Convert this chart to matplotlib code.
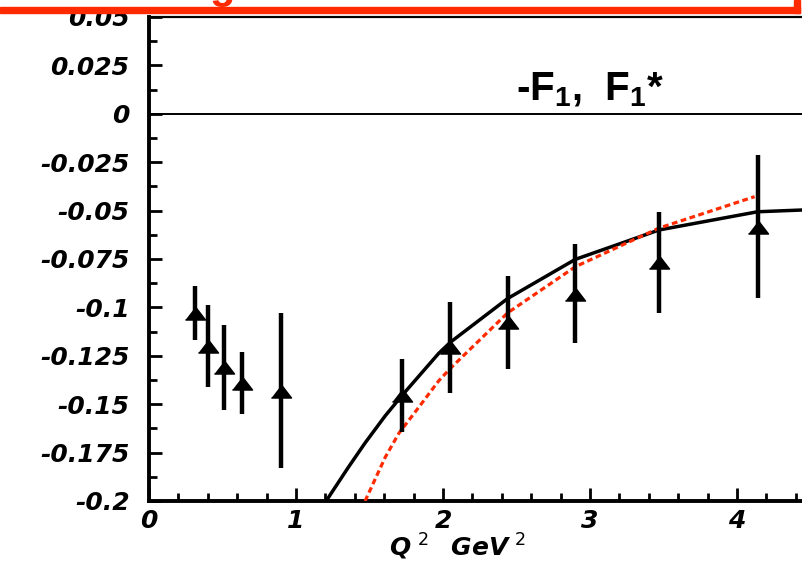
import numpy as np
import matplotlib
matplotlib.use("Agg")
import matplotlib.pyplot as plt
from matplotlib.patches import Rectangle
from matplotlib.ticker import MultipleLocator

plt.rcParams["mathtext.fontset"] = "custom"
plt.rcParams["mathtext.rm"] = "DejaVu Sans"
plt.rcParams["mathtext.it"] = "DejaVu Sans:bold:italic"
plt.rcParams["mathtext.bf"] = "Liberation Sans:bold"

# measured points: Q^2, value, error
q2   = [0.31, 0.40, 0.507, 0.63, 0.90, 1.72, 2.05, 2.44, 2.90, 3.47, 4.14]
vals = [-0.103, -0.120, -0.131, -0.139, -0.143, -0.1455, -0.1206, -0.1077, -0.093, -0.0767, -0.0583]
errs = [0.014, 0.021, 0.022, 0.016, 0.040, 0.019, 0.0235, 0.024, 0.0255, 0.026, 0.037]

# solid black curve
fit_q = [1.205, 1.356, 1.47, 1.607, 1.72, 1.97, 2.05, 2.44, 2.90, 3.47, 4.14, 4.44, 4.5]
fit_v = [-0.200, -0.1826, -0.170, -0.156, -0.1456, -0.1238, -0.118, -0.0954, -0.0752, -0.060, -0.0506, -0.0497, -0.0496]

# red dotted curve
alt_q = [1.47, 1.607, 1.70, 1.836, 1.97, 2.05, 2.44, 2.90, 3.47, 4.12]
alt_v = [-0.200, -0.1774, -0.165, -0.1515, -0.138, -0.1315, -0.1028, -0.079, -0.059, -0.0428]

RED = "#ff2a00"
W, H = 802, 561

fig = plt.figure(figsize=(W / 100, H / 100), dpi=100)
fig.patch.set_facecolor("white")

x0_px, y_top, y_bot = 149, 17, 501
px_per_unit = 147
xmax = 4.5
ax = fig.add_axes([x0_px / W, (H - y_bot) / H, xmax * px_per_unit / W, (y_bot - y_top) / H])
ax.set_xlim(0, xmax)
ax.set_ylim(-0.2, 0.05)

ax.axhline(0, color="black", lw=1.4, zorder=1)

ax.plot(fit_q, fit_v, color="black", lw=2.5, zorder=3)
ax.plot(alt_q, alt_v, color=RED, lw=2.3, ls=(0, (1.8, 1.1)), zorder=3)

tri = [(-1, -0.65), (1, -0.65), (0, 0.65)]
ax.errorbar(q2, vals, yerr=errs, fmt="none", ecolor="black", elinewidth=3.2, capsize=0, zorder=4)
ax.plot(q2, vals, ls="none", marker=tri, ms=14.5, color="black", mec="black", zorder=5)

for side in ("left", "bottom"):
    ax.spines[side].set_linewidth(2.8)
ax.spines["top"].set_linewidth(1.6)
ax.spines["right"].set_visible(False)

ax.yaxis.set_major_locator(MultipleLocator(0.025))
ax.yaxis.set_minor_locator(MultipleLocator(0.0125))
ax.xaxis.set_major_locator(MultipleLocator(1))
ax.xaxis.set_minor_locator(MultipleLocator(0.2))
ax.tick_params(which="major", direction="in", length=9.5, width=2, top=False, right=False)
ax.tick_params(which="minor", direction="in", length=5.5, width=2, top=False, right=False)
ax.tick_params(axis="y", which="major", pad=14)
ax.tick_params(axis="x", which="major", pad=6)

ylabels = ["-0.2", "-0.175", "-0.15", "-0.125", "-0.1", "-0.075", "-0.05", "-0.025", "0", "0.025", "0.05"]
ax.set_yticks(np.linspace(-0.2, 0.05, 11))
ax.set_yticklabels(ylabels)
xlabels = ["0", "1", "2", "3", "4"]
ax.set_xticks(range(5))
ax.set_xticklabels(xlabels)
for lbl in ax.get_xticklabels() + ax.get_yticklabels():
    lbl.set_fontfamily("DejaVu Sans")
    lbl.set_fontweight("bold")
    lbl.set_fontstyle("oblique")
    lbl.set_fontsize(18)

fig.text(389 / W, 1 - 556 / H, r"$\mathit{Q}^{\;2}\;\;\;\mathit{GeV}^{\;2}$",
         fontsize=18, ha="left", va="baseline")

fig.text(516 / W, 1 - 100 / H, r"-F$_{\mathbf{1}}$,  F$_{\mathbf{1}}$*",
         fontsize=29, fontfamily="Liberation Sans", fontweight="bold",
         ha="left", va="baseline")

# cropped red frame at the top
fig.add_artist(Rectangle((0, 1 - 13 / H), 800 / W, 6 / H, transform=fig.transFigure,
                         color=RED, zorder=10))
fig.add_artist(Rectangle((794 / W, 1 - 13 / H), 6 / W, 13 / H, transform=fig.transFigure,
                         color=RED, zorder=10))
fig.text(222 / W, 1 - 7 / H, "g", fontsize=30, fontfamily="Liberation Sans",
         fontweight="bold", color=RED, ha="center", va="bottom", zorder=10)

fig.savefig("out.png", dpi=100)
